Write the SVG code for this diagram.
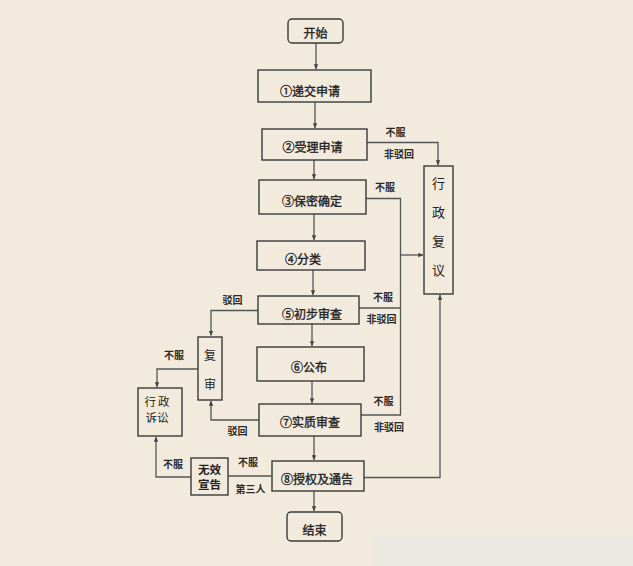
<svg xmlns="http://www.w3.org/2000/svg" width="633" height="566" viewBox="0 0 633 566">
  <defs>
    <marker id="arr" viewBox="0 0 8 8" refX="7.5" refY="4" markerWidth="5" markerHeight="5" orient="auto" markerUnits="userSpaceOnUse">
      <path d="M0,0.5 L8,4 L0,7.5 Z" fill="#444"/>
    </marker>
    <style>
      .box{fill:#F2EADD;stroke:#3a3a3a;stroke-width:1.4}
      .t{font-family:"Noto Sans CJK SC","Noto Sans",sans-serif;font-size:12px;fill:#222;text-anchor:middle;stroke:#222;stroke-width:0.35}
      .v{stroke-width:0}
      .lb{font-family:"Noto Sans CJK SC","Noto Sans",sans-serif;font-size:10px;font-weight:bold;fill:#2a2a2a;text-anchor:middle}
      .c{fill:none;stroke:#555;stroke-width:1.3}
      .a{marker-end:url(#arr)}
    </style>
  </defs>
  <rect x="0" y="0" width="633" height="566" fill="#F2EADD"/>
  <rect x="372" y="536" width="261" height="30" fill="#E9E7E3" opacity="0.8"/>

  <g id="connectors">
    <path class="c a" d="M316,43 V69"/>
    <path class="c a" d="M315,102 V128"/>
    <path class="c a" d="M314,160 V179"/>
    <path class="c a" d="M314,214 V240"/>
    <path class="c a" d="M313,270 V295"/>
    <path class="c a" d="M312,324 V346"/>
    <path class="c a" d="M312,381 V403"/>
    <path class="c a" d="M314,436 V460"/>
    <path class="c a" d="M314,491 V511"/>
    <path class="c a" d="M367,142.5 H438 V165"/>
    <path class="c" d="M366,198.5 H400.5 V415 H361"/>
    <path class="c" d="M359,308 H400.5"/>
    <path class="c a" d="M400.5,255 H423"/>
    <path class="c a" d="M364,477.5 H440 V295"/>
    <path class="c a" d="M258,310.5 H211 V335.5"/>
    <path class="c a" d="M259,420 H211 V401"/>
    <path class="c a" d="M198,369 H157 V387"/>
    <path class="c" d="M271.5,476 H228"/>
    <path class="c a" d="M191,477 H156 V437"/>
  </g>

  <g id="start">
    <rect class="box" x="288" y="19" width="55" height="24" rx="4"/>
    <text class="t" x="315.5" y="37.5">开始</text>
  </g>
  <g id="n1">
    <rect class="box" x="258" y="70" width="113" height="32"/>
    <text class="t" x="310" y="95.5">①递交申请</text>
  </g>
  <g id="n2">
    <rect class="box" x="262" y="129" width="105" height="31"/>
    <text class="t" x="312.5" y="151.5">②受理申请</text>
  </g>
  <g id="n3">
    <rect class="box" x="259" y="180" width="107" height="34"/>
    <text class="t" x="312" y="205.5">③保密确定</text>
  </g>
  <g id="n4">
    <rect class="box" x="257" y="241" width="108" height="29"/>
    <text class="t" x="303" y="263.5">④分类</text>
  </g>
  <g id="n5">
    <rect class="box" x="258" y="296" width="101" height="28"/>
    <text class="t" x="312" y="318.5">⑤初步审查</text>
  </g>
  <g id="n6">
    <rect class="box" x="257" y="347" width="107" height="34"/>
    <text class="t" x="309" y="371.5">⑥公布</text>
  </g>
  <g id="n7">
    <rect class="box" x="259" y="404" width="102" height="32"/>
    <text class="t" x="310" y="426.5">⑦实质审查</text>
  </g>
  <g id="n8">
    <rect class="box" x="272" y="461" width="92" height="30"/>
    <text class="t" x="317" y="483.5">⑧授权及通告</text>
  </g>
  <g id="end">
    <rect class="box" x="287" y="512" width="55" height="29" rx="4"/>
    <text class="t" x="314.5" y="535">结束</text>
  </g>
  <g id="review">
    <rect class="box" x="424" y="166" width="29" height="128"/>
    <text class="t v" x="438.5" y="187.5" style="font-size:13px">行</text>
    <text class="t v" x="438.5" y="216.5" style="font-size:13px">政</text>
    <text class="t v" x="438.5" y="245.5" style="font-size:13px">复</text>
    <text class="t v" x="438.5" y="274.5" style="font-size:13px">议</text>
  </g>
  <g id="reexam">
    <rect class="box" x="198" y="337" width="24" height="63"/>
    <text class="t v" x="210" y="359.5">复</text>
    <text class="t v" x="210" y="388.5">审</text>
  </g>
  <g id="lawsuit">
    <rect class="box" x="138" y="388" width="44" height="48"/>
    <text class="t v" x="158" y="405.5" style="font-size:11.5px;letter-spacing:2px">行政</text>
    <text class="t v" x="157" y="421.5" style="font-size:11.5px">诉讼</text>
  </g>
  <g id="invalid">
    <rect class="box" x="191" y="458" width="37" height="37"/>
    <text class="t" x="209.5" y="474" style="font-size:11.5px;font-weight:bold;stroke-width:0">无效</text>
    <text class="t" x="209.5" y="488.5" style="font-size:11.5px;font-weight:bold;stroke-width:0">宣告</text>
  </g>

  <g id="labels">
    <text class="lb" x="395.5" y="136">不服</text>
    <text class="lb" x="399" y="157.5">非驳回</text>
    <text class="lb" x="385" y="190.5">不服</text>
    <text class="lb" x="383" y="300.5">不服</text>
    <text class="lb" x="381.5" y="322.5">非驳回</text>
    <text class="lb" x="383.5" y="405">不服</text>
    <text class="lb" x="389" y="431">非驳回</text>
    <text class="lb" x="232.5" y="304">驳回</text>
    <text class="lb" x="237.5" y="434.5">驳回</text>
    <text class="lb" x="174" y="359">不服</text>
    <text class="lb" x="173" y="467.5">不服</text>
    <text class="lb" x="248" y="466">不服</text>
    <text class="lb" x="250.5" y="492.5">第三人</text>
  </g>
</svg>
